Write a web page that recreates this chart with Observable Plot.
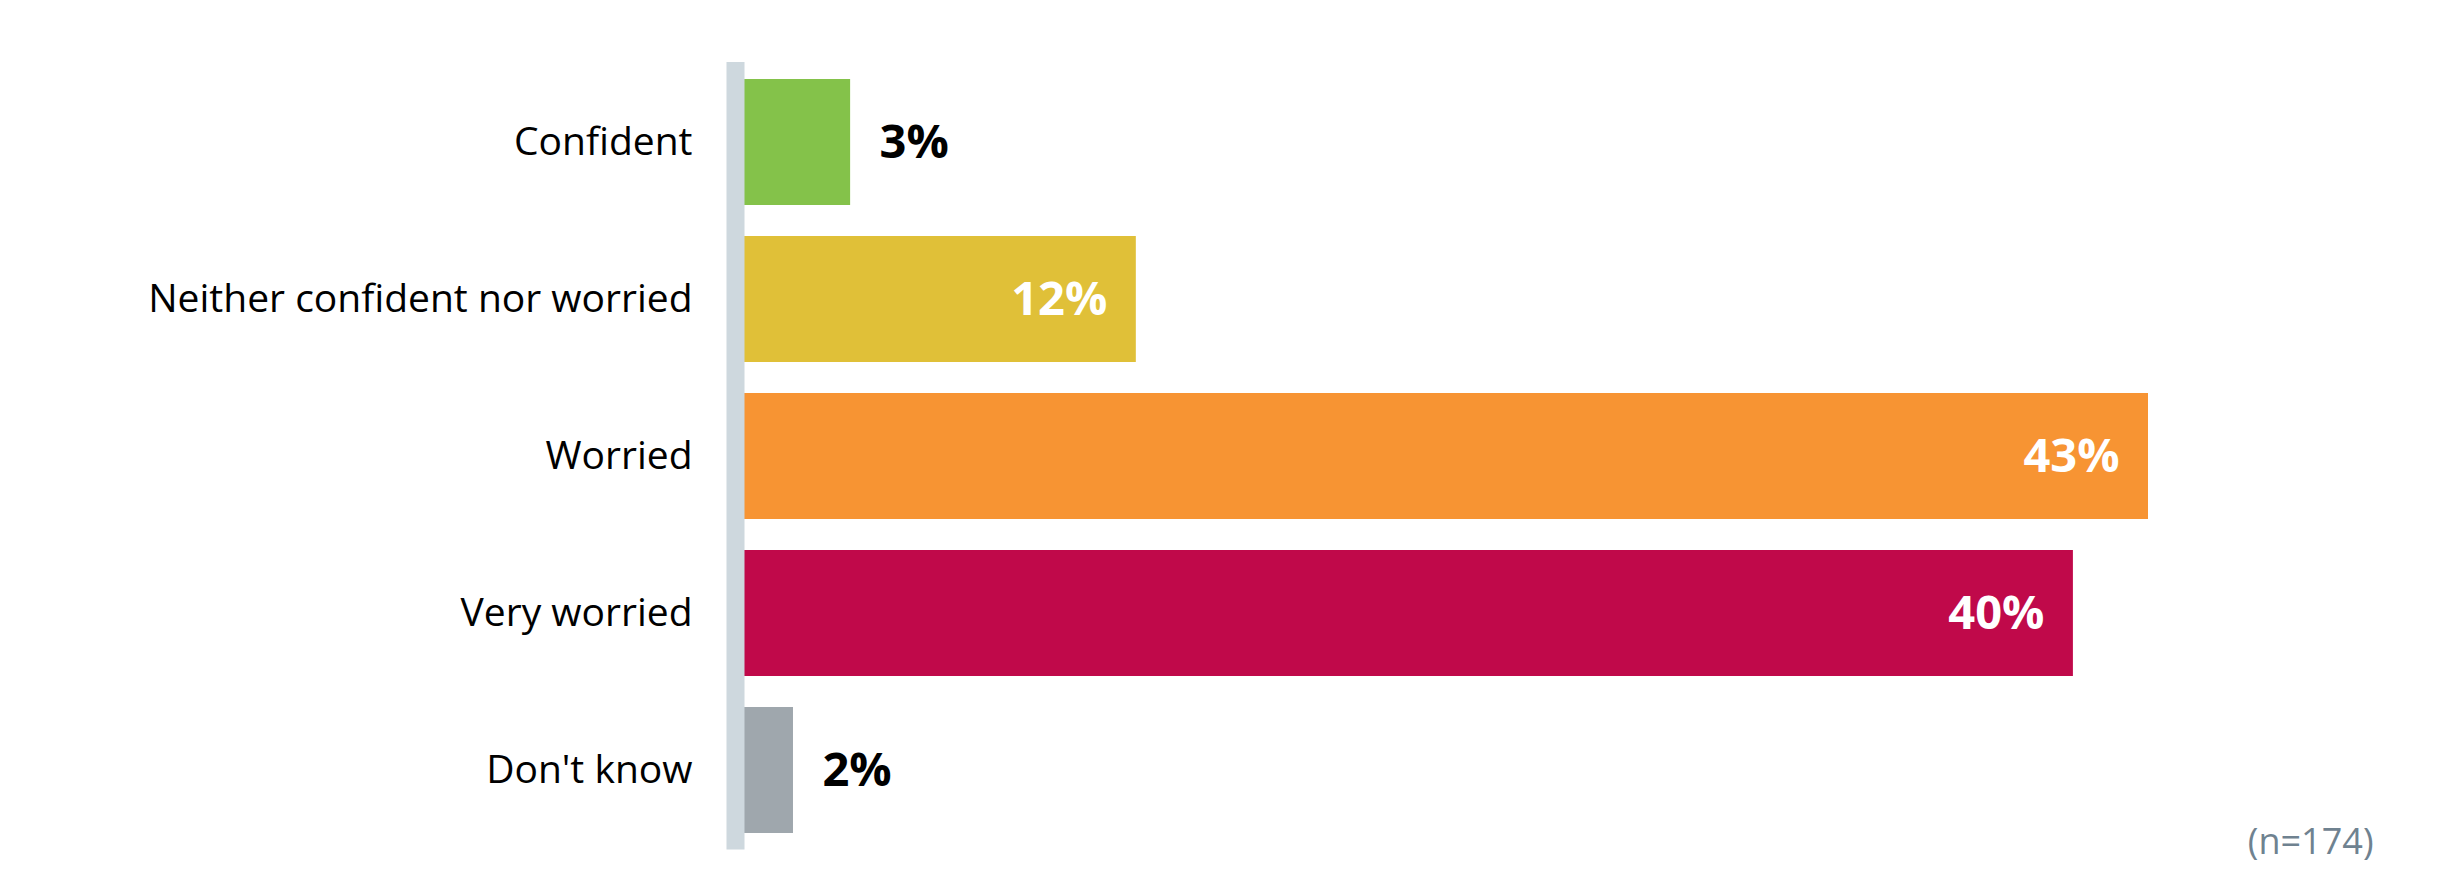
<!DOCTYPE html>
<html>
<head>
<meta charset="utf-8">
<script src="https://cdn.jsdelivr.net/npm/d3@7"></script>
<script src="https://cdn.jsdelivr.net/npm/@observablehq/plot@0.6"></script>
<style>
  html, body { margin: 0; padding: 0; background: #ffffff; }
  #chart svg { display: block; }
</style>
</head>
<body>
<div id="chart"></div>
<script>
const categories = ["Confident", "Neither confident nor worried", "Worried", "Very worried", "Don't know"];
const values = [3.25, 12.0, 43.0, 40.7, 1.5];
const valueLabels = ["3%", "12%", "43%", "40%", "2%"];
const colors = ["#84c24a", "#e0c038", "#f79433", "#c0094a", "#9fa7ad"];
const sampleNote = "(n=174)";

const data = categories.map((c, i) => ({category: c, value: values[i], label: valueLabels[i], color: colors[i]}));
const FONT = "'Open Sans', 'Noto Sans', sans-serif";

const chart = Plot.plot({
  width: 2451,
  height: 874,
  marginLeft: 744,
  marginRight: 303,
  marginTop: 62,
  marginBottom: 24.5,
  style: {fontFamily: FONT, background: "#ffffff"},
  x: {domain: [0, 43], axis: null},
  y: {domain: categories, paddingInner: 0.2, paddingOuter: 0.1, axis: null},
  marks: [
    Plot.barX(data, {y: "category", x: "value", fill: "color"}),
    Plot.ruleX([0], {stroke: "#ced8de", strokeWidth: 18, dx: -9}),
    Plot.axisY({tickSize: 0, tickPadding: 52, fontSize: 39, fill: "#000000", textAnchor: "end", label: null}),
    Plot.text(data.filter(d => d.value > 10), {
      y: "category", x: "value", text: "label", textAnchor: "end", dx: -29,
      fill: "#ffffff", fontSize: 47, fontWeight: "bold"
    }),
    Plot.text(data.filter(d => d.value <= 10), {
      y: "category", x: "value", text: "label", textAnchor: "start", dx: 29,
      fill: "#000000", fontSize: 47, fontWeight: "bold"
    }),
    Plot.text([sampleNote], {
      frameAnchor: "bottom-right", text: d => d, textAnchor: "end", lineAnchor: "middle",
      dx: 225, dy: -8, fill: "#6f8290", fontSize: 36
    })
  ]
});
document.getElementById("chart").appendChild(chart);
</script>
</body>
</html>
